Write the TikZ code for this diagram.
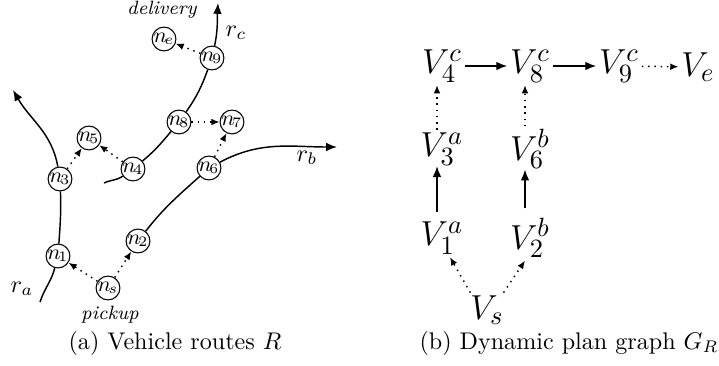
\documentclass[tikz,border=0pt]{standalone}
\usetikzlibrary{arrows.meta,calc}
\begin{document}
\begin{tikzpicture}[x=0.415pt,y=0.415pt,
  route/.style={line width=0.6pt},
  arrtip/.style={-{Latex[length=4.5pt,width=3.6pt]}},
  dtip/.style={dotted,line width=0.6pt,-{Latex[length=3.4pt,width=2.8pt]}},
  circ/.style={circle,draw,line width=0.45pt,fill=white,inner sep=0pt,minimum size=9.9pt,font=\small},
  vnode/.style={inner sep=1pt,font=\fontsize{15}{18}\selectfont},
  lab/.style={inner sep=0pt},
  captext/.style={inner sep=0pt}]
\path[use as bounding box] (0,0) rectangle (719,365);
% ---------- (a) ----------
\coordinate (ra0) at (40,63);
\coordinate (ra1) at (13,275);
\coordinate (rb1) at (337,218);
\coordinate (rc0) at (104,182);
\coordinate (rc1) at (218,362);
\node[circ] (n1) at (58,109) {\makebox[0pt]{$n\mkern-2mu_1$}};
\node[circ] (n2) at (138,124) {\makebox[0pt]{$n\mkern-2mu_2$}};
\node[circ] (n3) at (60,186) {\makebox[0pt]{$n\mkern-2mu_3$}};
\node[circ] (n4) at (133,196) {\makebox[0pt]{$n\mkern-2mu_4$}};
\node[circ] (n5) at (89,227) {\makebox[0pt]{$n\mkern-2mu_5$}};
\node[circ] (n6) at (209,197) {\makebox[0pt]{$n\mkern-2mu_6$}};
\node[circ] (n7) at (232,243) {\makebox[0pt]{$n\mkern-2mu_7$}};
\node[circ] (n8) at (179,243) {\makebox[0pt]{$n\mkern-2mu_8$}};
\node[circ] (n9) at (212,307) {\makebox[0pt]{$n\mkern-2mu_9$}};
\node[circ] (ne) at (164,326) {\makebox[0pt]{$n\mkern-2mu_e$}};
\node[circ] (ns) at (108,77) {\makebox[0pt]{$n\mkern-2mu_s$}};
% routes
\draw[route] (ra0) to[out=72,in=-105] (n1);
\draw[route] (n1) to[out=86,in=-88] (n3);
\draw[route,arrtip] (n3) to[out=100,in=-60] (ra1);
\draw[route] (n2) to[out=52,in=-138] (n6);
\draw[route,arrtip] (n6) to[out=28,in=180] (rb1);
\draw[route] (rc0) to[out=25,in=-145] (n4);
\draw[route] (n4) to[out=40,in=-130] (n8);
\draw[route] (n8) to[out=55,in=-110] (n9);
\draw[route,arrtip] (n9) to[out=78,in=-93] (rc1);
% dotted
\draw[dtip] (ns) -- (n1);
\draw[dtip] (ns) -- (n2);
\draw[dtip] (n3) -- (n5);
\draw[dtip] (n4) -- (n5);
\draw[dtip] (n8) -- (n7);
\draw[dtip] (n6) -- (n7);
\draw[dtip] (n9) -- (ne);
% labels
\node[lab] (la) at (22,76) {$r_a$};
\node[lab] (lb) at (307,207) {$r_b$};
\node[lab] (lc) at (236,332) {$r_c$};
\node[lab,font=\footnotesize\itshape] (pick) at (110,50) {pickup};
\node[lab,font=\footnotesize\itshape] (deli) at (162,355) {delivery};
\node[captext] (capa) at (175,22) {(a) Vehicle routes $R$};
% ---------- (b) ----------
\node[vnode] (V4) at (442,299) {$V_4^c$};
\node[vnode] (V8) at (530,299) {$V_8^c$};
\node[vnode] (V9) at (619,299) {$V_9^c$};
\node[vnode] (Ve) at (698,298) {$V_e$};
\node[vnode] (V3) at (442,216) {$V_3^a$};
\node[vnode] (V6) at (530,216) {$V_6^b$};
\node[vnode] (V1) at (442,127) {$V_1^a$};
\node[vnode] (V2) at (530,127) {$V_2^b$};
\node[vnode] (Vs) at (487,55) {$V_s$};
\draw[route,arrtip] (V4) -- (V8);
\draw[route,arrtip] (V8) -- (V9);
\draw[dtip] (V9) -- (Ve);
\draw[dtip] ($(V3.north)+(-5,0)$) -- ($(V4.south)+(-5,0)$);
\draw[dtip] ($(V6.north)+(-5,0)$) -- ($(V8.south)+(-5,0)$);
\draw[route,arrtip] ($(V1.north)+(-5,7)$) -- ($(V3.south)+(-5,2)$);
\draw[route,arrtip] ($(V2.north)+(-5,7)$) -- ($(V6.south)+(-5,2)$);
\draw[dtip] ($(Vs.north west)+(3,0)$) -- ($(V1.south)+(8,0)$);
\draw[dtip] ($(Vs.north east)+(-3,0)$) -- ($(V2.south)+(-5,0)$);
\node[captext] (capb) at (569,22) {(b) Dynamic plan graph $G_R$};
\end{tikzpicture}
\end{document}
